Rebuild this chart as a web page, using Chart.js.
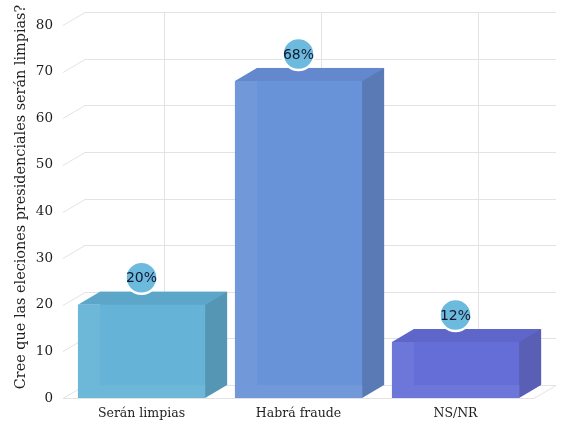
<!DOCTYPE html>
<html>
<head>
<meta charset="utf-8">
<script src="https://cdn.jsdelivr.net/npm/chart.js@4.4.1/dist/chart.umd.min.js"></script>
<style>
  html, body { margin: 0; padding: 0; background: #ffffff; }
  #wrap { width: 573px; height: 438px; position: relative; }
</style>
</head>
<body>
<div id="wrap"><canvas id="c" width="573" height="438"></canvas></div>
<script>
const categories = ['Serán limpias', 'Habrá fraude', 'NS/NR'];
const values = [20, 68, 12];
const yTicks = [0, 10, 20, 30, 40, 50, 60, 70, 80];
const axisTitle = 'Cree que las eleciones presidenciales serán limpias?';

const frontColors = ['rgba(101,179,215,0.95)', 'rgba(105,147,216,0.95)', 'rgba(101,111,215,0.95)'];
const topColors = ['#5ca6ca', '#6388cd', '#5e66ca'];
const sideColors = ['#5596b4', '#5a7ab6', '#595fb4'];
const backColors = ['#62afd3', '#6790d4', '#626bd2'];

const DX = 22, DY = -13;
const GRID = '#e3e3e3';

const depthPlugin = {
  id: 'depth3d',
  beforeDatasetsDraw(chart) {
    const ctx = chart.ctx;
    const ys = chart.scales.y, xs = chart.scales.x;
    const a = chart.chartArea;
    ctx.save();
    ctx.strokeStyle = GRID;
    ctx.lineWidth = 1;
    yTicks.forEach(v => {
      const y = Math.round(ys.getPixelForValue(v)) + 0.5;
      ctx.beginPath();
      ctx.moveTo(a.left, y);
      ctx.lineTo(a.left + DX, y + DY);
      ctx.lineTo(a.right + DX, y + DY);
      ctx.stroke();
    });
    categories.forEach((c, i) => {
      const x = Math.round(xs.getPixelForValue(i) + DX) + 0.5;
      ctx.beginPath();
      ctx.moveTo(x, ys.getPixelForValue(80) + DY);
      ctx.lineTo(x, ys.getPixelForValue(0) + DY);
      ctx.stroke();
    });
    const y0 = Math.round(ys.getPixelForValue(0)) + 0.5;
    ctx.beginPath();
    ctx.moveTo(a.left, y0);
    ctx.lineTo(a.right, y0);
    ctx.lineTo(a.right + DX, y0 + DY);
    ctx.stroke();
    const meta = chart.getDatasetMeta(0);
    meta.data.forEach((bar, i) => {
      const p = bar.getProps(['x', 'y', 'base', 'width'], true);
      const l = p.x - p.width / 2, r = p.x + p.width / 2, t = p.y, b = p.base;
      ctx.fillStyle = backColors[i];
      ctx.fillRect(l + DX, t + DY, r - l, b - t);
      ctx.fillStyle = sideColors[i];
      ctx.beginPath();
      ctx.moveTo(r, t); ctx.lineTo(r + DX, t + DY); ctx.lineTo(r + DX, b + DY); ctx.lineTo(r, b);
      ctx.closePath(); ctx.fill();
      ctx.fillStyle = topColors[i];
      ctx.beginPath();
      ctx.moveTo(l, t); ctx.lineTo(l + DX, t + DY); ctx.lineTo(r + DX, t + DY); ctx.lineTo(r, t);
      ctx.closePath(); ctx.fill();
    });
    ctx.restore();
  },
  afterDatasetsDraw(chart) {
    const ctx = chart.ctx;
    const meta = chart.getDatasetMeta(0);
    ctx.save();
    meta.data.forEach((bar, i) => {
      const p = bar.getProps(['x', 'y'], true);
      const cx = p.x, cy = p.y - 27;
      ctx.beginPath();
      ctx.arc(cx, cy, 16, 0, Math.PI * 2);
      ctx.fillStyle = '#6cbadd';
      ctx.fill();
      ctx.lineWidth = 2.5;
      ctx.strokeStyle = '#ffffff';
      ctx.stroke();
      ctx.fillStyle = '#141830';
      ctx.font = '14px "DejaVu Sans"';
      ctx.textAlign = 'center';
      ctx.textBaseline = 'middle';
      ctx.fillText(values[i] + '%', cx, cy + 1);
    });
    ctx.translate(21, 197);
    ctx.rotate(-Math.PI / 2);
    ctx.fillStyle = '#1e1e1e';
    ctx.font = '14.4px "DejaVu Serif"';
    ctx.textAlign = 'center';
    ctx.textBaseline = 'middle';
    ctx.fillText(axisTitle, 0, 0);
    ctx.restore();
  }
};

new Chart(document.getElementById('c'), {
  type: 'bar',
  data: {
    labels: categories,
    datasets: [{
      data: values,
      backgroundColor: frontColors,
      borderWidth: 0,
      barPercentage: 0.9,
      categoryPercentage: 0.9
    }]
  },
  options: {
    responsive: false,
    animation: false,
    devicePixelRatio: 1,
    layout: { padding: { top: 25, right: 39, left: 0, bottom: 0 } },
    plugins: { legend: { display: false }, tooltip: { enabled: false } },
    scales: {
      x: {
        grid: { display: false, drawTicks: false },
        border: { display: false },
        ticks: { color: '#1e1e1e', font: { family: 'DejaVu Serif', size: 12.5 }, padding: 8, maxRotation: 0 },
        afterFit(s) { s.height = 40; }
      },
      y: {
        min: 0, max: 80,
        afterBuildTicks(s) { s.ticks = yTicks.map(v => ({ value: v })); },
        grid: { display: false, drawTicks: false },
        border: { display: false },
        ticks: { color: '#1e1e1e', font: { family: 'DejaVu Serif', size: 13.5 }, padding: 10 },
        afterFit(s) { s.width = 63; }
      }
    }
  },
  plugins: [depthPlugin]
});
</script>
</body>
</html>
